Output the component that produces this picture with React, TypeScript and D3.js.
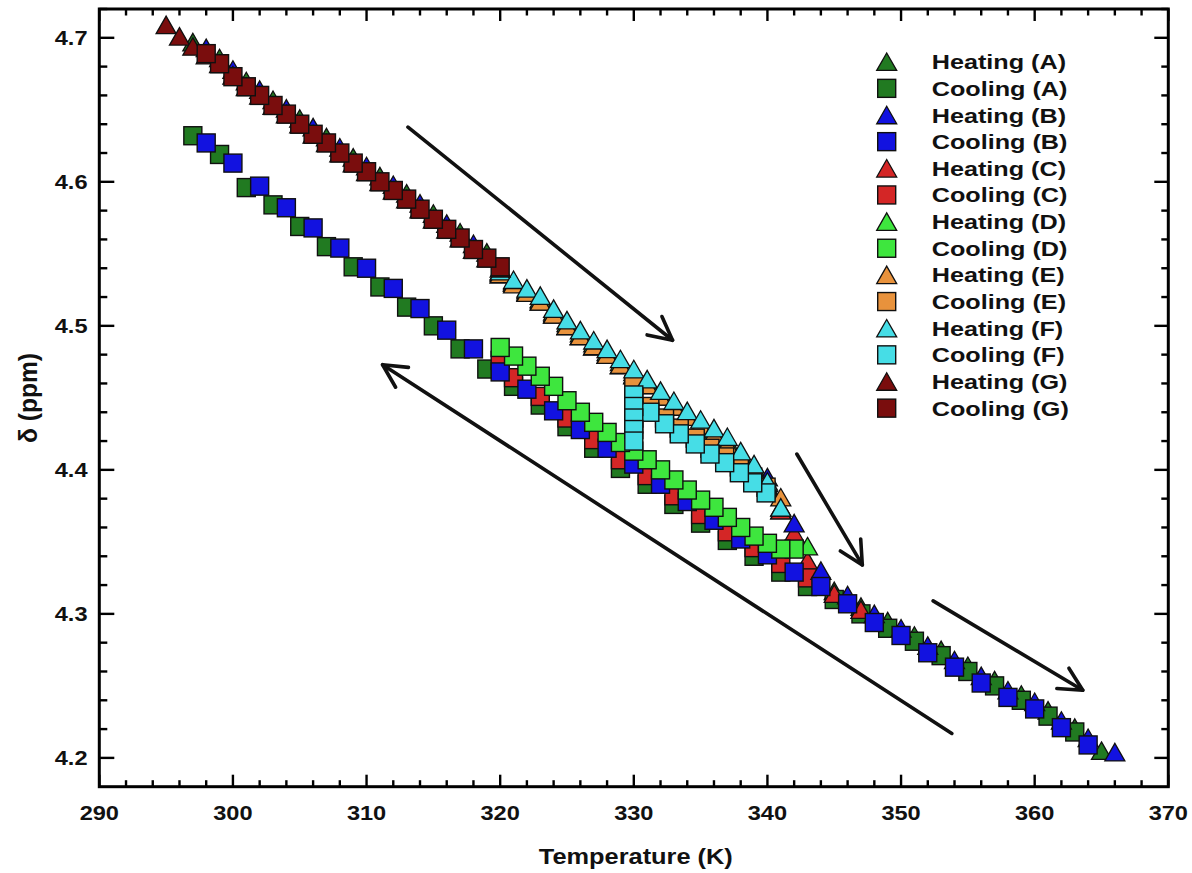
import React from "react";
import * as d3 from "d3";

const W = 1192;
const H = 873;

// Axis settings
const xDomain: [number, number] = [290, 370];
const yDomain: [number, number] = [4.18, 4.72];
const xTickValues = [290, 300, 310, 320, 330, 340, 350, 360, 370];
const yTickValues = [4.2, 4.3, 4.4, 4.5, 4.6, 4.7];
const xTickLabels = ["290", "300", "310", "320", "330", "340", "350", "360", "370"];
const yTickLabels = ["4.2", "4.3", "4.4", "4.5", "4.6", "4.7"];

// Heating (A)
const heatA_T = [297, 299, 301, 303, 305, 307, 309, 311, 313, 315, 317, 319, 321, 323, 325, 327, 329, 331, 333, 335, 337, 339, 341, 343, 345, 347, 349, 351, 353, 355, 357, 359, 361, 363, 365];
const heatA_V = [4.697, 4.686, 4.670, 4.657, 4.644, 4.631, 4.617, 4.604, 4.592, 4.578, 4.565, 4.551, 4.530, 4.517, 4.500, 4.486, 4.473, 4.459, 4.444, 4.431, 4.418, 4.400, 4.372, 4.330, 4.316, 4.305, 4.295, 4.285, 4.275, 4.264, 4.254, 4.244, 4.233, 4.221, 4.205];
// Cooling (A)
const coolA_T = [363, 361, 359, 357, 355, 353, 351, 349, 347, 345, 343, 341, 339, 337, 335, 333, 331, 329, 327, 325, 323, 321, 319, 317, 315, 313, 311, 309, 307, 305, 303, 301, 299, 297];
const coolA_V = [4.218, 4.229, 4.240, 4.250, 4.260, 4.271, 4.281, 4.290, 4.300, 4.310, 4.319, 4.329, 4.340, 4.351, 4.363, 4.376, 4.390, 4.401, 4.415, 4.430, 4.445, 4.458, 4.470, 4.484, 4.500, 4.513, 4.527, 4.541, 4.555, 4.569, 4.584, 4.596, 4.619, 4.632];
// Heating (B)
const heatB_T = [298, 300, 302, 304, 306, 308, 310, 312, 314, 316, 318, 320, 322, 324, 326, 328, 330, 332, 334, 336, 338, 340, 342, 344, 346, 348, 350, 352, 354, 356, 358, 360, 362, 364, 366];
const heatB_V = [4.693, 4.678, 4.664, 4.651, 4.638, 4.624, 4.611, 4.598, 4.585, 4.571, 4.557, 4.536, 4.523, 4.509, 4.493, 4.480, 4.466, 4.451, 4.437, 4.425, 4.409, 4.395, 4.363, 4.330, 4.313, 4.300, 4.290, 4.278, 4.268, 4.257, 4.247, 4.239, 4.226, 4.214, 4.204];
// Cooling (B)
const coolB_T = [364, 362, 360, 358, 356, 354, 352, 350, 348, 346, 344, 342, 340, 338, 336, 334, 332, 330, 328, 326, 324, 322, 320, 318, 316, 314, 312, 310, 308, 306, 304, 302, 300, 298];
const coolB_V = [4.209, 4.221, 4.234, 4.242, 4.252, 4.263, 4.273, 4.285, 4.294, 4.307, 4.319, 4.329, 4.341, 4.352, 4.365, 4.378, 4.390, 4.404, 4.415, 4.428, 4.441, 4.456, 4.468, 4.484, 4.497, 4.512, 4.526, 4.540, 4.554, 4.568, 4.582, 4.597, 4.613, 4.627];
// Heating (C)
const heatC_T = [320, 321, 322, 323, 324, 325, 326, 327, 328, 329, 330, 331, 332, 333, 334, 335, 336, 337, 338, 339, 340, 341, 342, 343, 345, 347];
const heatC_V = [4.537, 4.530, 4.524, 4.518, 4.508, 4.500, 4.493, 4.486, 4.480, 4.473, 4.466, 4.459, 4.451, 4.444, 4.437, 4.431, 4.425, 4.418, 4.409, 4.400, 4.389, 4.372, 4.356, 4.337, 4.314, 4.303];
// Cooling (C)
const coolC_T = [343, 341, 339, 337, 335, 333, 331, 329, 327, 325, 323, 321, 320];
const coolC_V = [4.325, 4.335, 4.346, 4.357, 4.369, 4.382, 4.396, 4.407, 4.421, 4.436, 4.451, 4.464, 4.476];
// Heating (D)
const heatD_T = [320, 321, 322, 323, 324, 325, 326, 327, 328, 329, 330, 331, 332, 333, 334, 335, 336, 337, 338, 339, 340, 341, 343];
const heatD_V = [4.538, 4.531, 4.525, 4.519, 4.510, 4.502, 4.495, 4.488, 4.482, 4.475, 4.468, 4.461, 4.453, 4.446, 4.439, 4.433, 4.427, 4.420, 4.411, 4.402, 4.391, 4.374, 4.347];
// Cooling (D)
const coolD_T = [342, 341, 340, 339, 338, 337, 336, 335, 334, 333, 332, 331, 330, 329, 328, 327, 326, 325, 324, 323, 322, 321, 320];
const coolD_V = [4.345, 4.345, 4.349, 4.354, 4.360, 4.367, 4.374, 4.379, 4.386, 4.393, 4.400, 4.407, 4.413, 4.419, 4.426, 4.433, 4.440, 4.448, 4.458, 4.465, 4.472, 4.479, 4.485];
// Heating (E)
const heatE_T = [320, 321, 322, 323, 324, 325, 326, 327, 328, 329, 330, 331, 332, 333, 334, 335, 336, 337, 338, 339, 340, 341];
const heatE_V = [4.536, 4.529, 4.523, 4.517, 4.508, 4.500, 4.493, 4.486, 4.480, 4.473, 4.466, 4.459, 4.451, 4.444, 4.437, 4.431, 4.425, 4.418, 4.409, 4.400, 4.388, 4.381];
// Cooling (E)
const coolE_T = [339.9, 338.9, 337.9, 336.8, 335.7, 334.6, 333.4, 332.3, 331.2, 330, 330, 330, 330];
const coolE_V = [4.388, 4.395, 4.402, 4.409, 4.415, 4.422, 4.429, 4.436, 4.444, 4.459, 4.450, 4.441, 4.432];
// Heating (F)
const heatF_T = [320, 321, 322, 323, 324, 325, 326, 327, 328, 329, 330, 331, 332, 333, 334, 335, 336, 337, 338, 339, 340, 341];
const heatF_V = [4.538, 4.532, 4.526, 4.521, 4.512, 4.504, 4.497, 4.490, 4.484, 4.477, 4.470, 4.463, 4.455, 4.448, 4.441, 4.435, 4.429, 4.423, 4.413, 4.404, 4.392, 4.374];
// Cooling (F)
const coolF_T = [339.9, 338.9, 337.9, 336.8, 335.7, 334.6, 333.4, 332.3, 331.2, 330, 330, 330, 330, 330];
const coolF_V = [4.384, 4.391, 4.398, 4.405, 4.411, 4.418, 4.425, 4.432, 4.440, 4.452, 4.444, 4.436, 4.428, 4.420];
// Heating (G)
const heatG_T = [295, 296, 297, 298, 299, 300, 301, 302, 303, 304, 305, 306, 307, 308, 309, 310, 311, 312, 313, 314, 315, 316, 317, 318, 319, 320];
const heatG_V = [4.709, 4.701, 4.694, 4.688, 4.682, 4.674, 4.666, 4.660, 4.653, 4.647, 4.640, 4.633, 4.627, 4.620, 4.613, 4.607, 4.600, 4.594, 4.588, 4.581, 4.574, 4.567, 4.561, 4.553, 4.547, 4.540];
// Cooling (G)
const coolG_T = [320, 319, 318, 317, 316, 315, 314, 313, 312, 311, 310, 309, 308, 307, 306, 305, 304, 303, 302, 301, 300, 299, 298];
const coolG_V = [4.541, 4.547, 4.553, 4.561, 4.567, 4.574, 4.581, 4.588, 4.594, 4.600, 4.607, 4.613, 4.620, 4.627, 4.633, 4.640, 4.647, 4.653, 4.660, 4.666, 4.673, 4.682, 4.689];

// Direction arrows, in data coordinates: [T, delta] start -> end (head at end)
const arrowFrom: [number, number][] = [[313.1, 4.638], [342.2, 4.411], [352.4, 4.309], [353.8, 4.217]];
const arrowTo: [number, number][] = [[332.9, 4.490], [347.1, 4.334], [363.6, 4.247], [311.2, 4.473]];

type Shape = "tri" | "sq";
interface Series { label: string; shape: Shape; color: string; T: number[]; V: number[] }

const C_DKGREEN = "#217a21";
const C_BLUE = "#1212e0";
const C_RED = "#d42626";
const C_LTGREEN = "#3ee63e";
const C_ORANGE = "#e8923c";
const C_CYAN = "#46dde6";
const C_DKRED = "#7a0d0d";

const legendSeries: Series[] = [
  { label: "Heating (A)", shape: "tri", color: C_DKGREEN, T: heatA_T, V: heatA_V },
  { label: "Cooling (A)", shape: "sq", color: C_DKGREEN, T: coolA_T, V: coolA_V },
  { label: "Heating (B)", shape: "tri", color: C_BLUE, T: heatB_T, V: heatB_V },
  { label: "Cooling (B)", shape: "sq", color: C_BLUE, T: coolB_T, V: coolB_V },
  { label: "Heating (C)", shape: "tri", color: C_RED, T: heatC_T, V: heatC_V },
  { label: "Cooling (C)", shape: "sq", color: C_RED, T: coolC_T, V: coolC_V },
  { label: "Heating (D)", shape: "tri", color: C_LTGREEN, T: heatD_T, V: heatD_V },
  { label: "Cooling (D)", shape: "sq", color: C_LTGREEN, T: coolD_T, V: coolD_V },
  { label: "Heating (E)", shape: "tri", color: C_ORANGE, T: heatE_T, V: heatE_V },
  { label: "Cooling (E)", shape: "sq", color: C_ORANGE, T: coolE_T, V: coolE_V },
  { label: "Heating (F)", shape: "tri", color: C_CYAN, T: heatF_T, V: heatF_V },
  { label: "Cooling (F)", shape: "sq", color: C_CYAN, T: coolF_T, V: coolF_V },
  { label: "Heating (G)", shape: "tri", color: C_DKRED, T: heatG_T, V: heatG_V },
  { label: "Cooling (G)", shape: "sq", color: C_DKRED, T: coolG_T, V: coolG_V },
];

// paint order: runs C under B so the blue cooling squares sit on top
const drawOrder = [0, 1, 4, 5, 2, 3, 6, 7, 8, 9, 10, 11, 12, 13];

const FONT = "'Liberation Sans', Arial, Helvetica, sans-serif";
const SX = 1.18;

const L = 99.3, R = 1168.3, T0 = 9, B = 786.7;

function Marker({ shape, cx, cy, color }: { shape: Shape; cx: number; cy: number; color: string }) {
  if (shape === "sq") {
    const s = 18;
    return <rect x={cx - s / 2} y={cy - s / 2} width={s} height={s} fill={color} stroke="#101010" strokeWidth={1.4} />;
  }
  const w = 20, h = 17.5;
  const tri = d3.path();
  tri.moveTo(cx, cy - h / 2);
  tri.lineTo(cx + w / 2, cy + h / 2);
  tri.lineTo(cx - w / 2, cy + h / 2);
  tri.closePath();
  return <path d={tri.toString()} fill={color} stroke="#101010" strokeWidth={1.3} strokeLinejoin="miter" />;
}

export default function App() {
  const x = d3.scaleLinear().domain(xDomain).range([L, R]);
  const y = d3.scaleLinear().domain(yDomain).range([B, T0]);

  const xMinor = d3.range(xDomain[0], xDomain[1] + 0.001, 2);
  const yMinor = d3.range(4.2, yDomain[1] + 0.001, 0.02).map((v) => +v.toFixed(2));

  const legendX = 886.7;
  const legendTextX = 931.7;
  const legendY0 = 61.7;
  const legendDy = 26.65;

  const arrowHead = (from: [number, number], to: [number, number]) => {
    const x1 = x(from[0]), y1 = y(from[1]), x2 = x(to[0]), y2 = y(to[1]);
    const ang = Math.atan2(y2 - y1, x2 - x1);
    const len = 26, spread = (27 * Math.PI) / 180;
    const p = d3.path();
    p.moveTo(x2 - len * Math.cos(ang - spread), y2 - len * Math.sin(ang - spread));
    p.lineTo(x2, y2);
    p.lineTo(x2 - len * Math.cos(ang + spread), y2 - len * Math.sin(ang + spread));
    return { line: [x1, y1, x2, y2], head: p.toString() };
  };

  return (
    <svg
      width={W}
      height={H}
      viewBox={`0 0 ${W} ${H}`}
      style={{ position: "absolute", left: 0, top: 0, background: "#fff" }}
      fontFamily={FONT}
    >
      <rect x={0} y={0} width={W} height={H} fill="#fff" />

      {/* markers */}
      <g>
        {drawOrder.map((si) => {
          const s = legendSeries[si];
          return (
            <g key={s.label}>
              {s.T.map((t, i) => (
                <Marker key={i} shape={s.shape} cx={x(t)} cy={y(s.V[i])} color={s.color} />
              ))}
            </g>
          );
        })}
      </g>

      {/* arrows */}
      <g stroke="#111" strokeWidth={3.6} fill="none" strokeLinecap="round" strokeLinejoin="round">
        {arrowFrom.map((f, i) => {
          const a = arrowHead(f, arrowTo[i]);
          return (
            <g key={i}>
              <line x1={a.line[0]} y1={a.line[1]} x2={a.line[2]} y2={a.line[3]} />
              <path d={a.head} />
            </g>
          );
        })}
      </g>

      {/* frame ticks */}
      <g stroke="#000" strokeWidth={2.4}>
        {xMinor.map((v) => {
          const major = Math.abs(v % 10) < 1e-6;
          const len = major ? 12 : 6.5;
          return (
            <g key={"xt" + v}>
              <line x1={x(v)} x2={x(v)} y1={B} y2={B - len} />
              <line x1={x(v)} x2={x(v)} y1={T0} y2={T0 + len} />
            </g>
          );
        })}
        {yMinor.map((v) => {
          const major = yTickValues.some((t) => Math.abs(t - v) < 1e-6);
          return (
            <g key={"yt" + v}>
              <line x1={L} x2={L + (major ? 15 : 8)} y1={y(v)} y2={y(v)} />
              <line x1={R} x2={R - (major ? 14 : 7)} y1={y(v)} y2={y(v)} />
            </g>
          );
        })}
      </g>
      <rect x={L} y={T0} width={R - L} height={B - T0} fill="none" stroke="#000" strokeWidth={3} />

      {/* tick labels */}
      <g fontWeight="bold" fontSize={20} fill="#111">
        {xTickValues.map((v, i) => (
          <g key={"xl" + v} transform={`translate(${x(v)},${820}) scale(${SX},1)`}>
            <text textAnchor="middle">{xTickLabels[i]}</text>
          </g>
        ))}
        {yTickValues.map((v, i) => (
          <g key={"yl" + v} transform={`translate(${87.5},${y(v) + 7}) scale(${SX},1)`}>
            <text textAnchor="end">{yTickLabels[i]}</text>
          </g>
        ))}
      </g>

      {/* axis titles */}
      <g transform={`translate(${(L + R) / 2 + 2},${864}) scale(${SX},1)`}>
        <text textAnchor="middle" fontWeight="bold" fontSize={21.5} fill="#111">Temperature (K)</text>
      </g>
      <g transform={`translate(${37},${398}) rotate(-90) scale(1,${SX})`}>
        <text textAnchor="middle" fontWeight="bold" fontSize={22} fill="#111" textLength={90} lengthAdjust="spacingAndGlyphs">δ (ppm)</text>
      </g>

      {/* legend */}
      <g>
        {legendSeries.map((s, i) => {
          const cy = legendY0 + i * legendDy;
          return (
            <g key={"lg" + s.label}>
              <Marker shape={s.shape} cx={legendX} cy={cy} color={s.color} />
              <g transform={`translate(${legendTextX},${cy + 7.5}) scale(1.2,1)`}>
                <text fontWeight="bold" fontSize={21} fill="#111">{s.label}</text>
              </g>
            </g>
          );
        })}
      </g>
    </svg>
  );
}
